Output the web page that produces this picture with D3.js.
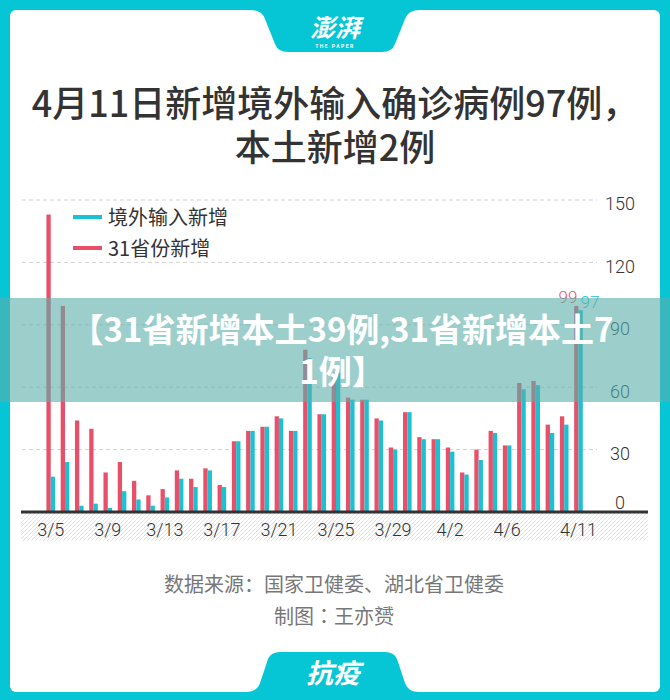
<!DOCTYPE html>
<html><head><meta charset="utf-8">
<script src="https://cdn.jsdelivr.net/npm/d3@7"></script>
<style>html,body{margin:0;padding:0;background:#fff}svg{display:block}</style>
</head><body>
<svg id="c" width="670" height="700"></svg>
<script>
const dates = ["3/5","3/6","3/7","3/8","3/9","3/10","3/11","3/12","3/13","3/14","3/15","3/16","3/17","3/18","3/19","3/20","3/21","3/22","3/23","3/24","3/25","3/26","3/27","3/28","3/29","3/30","3/31","4/1","4/2","4/3","4/4","4/5","4/6","4/7","4/8","4/9","4/10","4/11"];
const provinces31 = [143,99,44,40,19,24,15,8,11,20,16,21,13,34,39,41,46,39,78,47,67,55,54,45,31,48,36,35,31,19,30,39,32,62,63,42,46,99];
const imported = [17,24,3,4,2,10,6,3,7,16,12,20,12,34,39,41,45,39,74,47,67,54,54,44,30,48,35,35,29,18,25,38,32,59,61,38,42,97];
const xTickLabels = ["3/5","3/9","3/13","3/17","3/21","3/25","3/29","4/2","4/6","4/11"];
const yTicks = [0,30,60,90,120,150];
const seriesNames = ["境外输入新增","31省份新增"];
const titleLines = ["4月11日新增境外输入确诊病例97例，","本土新增2例"];
const bannerLines = ["【31省新增本土39例,31省新增本土7","1例】"];

const CYAN = "#1cc1d1", RED = "#e8506a", BORDER = "#06c6d6";
const CJK = "'Noto Sans CJK SC', sans-serif";
const NUM = "Roboto, 'Noto Sans', sans-serif";

const svg = d3.select("#c");
const defs = svg.append("defs");
const pat = defs.append("pattern").attr("id","hatch").attr("patternUnits","userSpaceOnUse")
  .attr("width",4).attr("height",4);
pat.append("path").attr("d","M-1,1 l2,-2 M0,4 l4,-4 M3,5 l2,-2").attr("stroke","#dadada").attr("stroke-width",0.8);

// background & card
svg.append("rect").attr("width",670).attr("height",700).attr("fill",BORDER);
svg.append("rect").attr("x",10).attr("y",10).attr("width",650).attr("height",682).attr("rx",6).attr("fill","#fff");

// top tab
svg.append("path").attr("fill",BORDER)
  .attr("d","M250,10 Q262,10 265,19 L275,44 Q278,52 288,52 L382,52 Q392,52 395,44 L405,19 Q408,10 420,10 Z");
svg.append("text").attr("x",335).attr("y",37).attr("text-anchor","middle")
  .attr("font-family",CJK).attr("font-weight",700).attr("font-style","italic").attr("font-size",25)
  .attr("fill","#fff").text("澎湃");
svg.append("text").attr("x",335).attr("y",48).attr("text-anchor","middle")
  .attr("font-family",NUM).attr("font-weight",700).attr("font-size",5).attr("letter-spacing",1.5)
  .attr("fill","#fff").text("THE PAPER");

// bottom tab
svg.append("path").attr("fill",BORDER)
  .attr("d","M246,692 Q257,692 260,683 L268,659 Q271,652 280,652 L385,652 Q394,652 397,659 L405,683 Q408,692 419,692 Z");
svg.append("text").attr("x",333).attr("y",683).attr("text-anchor","middle")
  .attr("font-family",CJK).attr("font-weight",700).attr("font-style","italic").attr("font-size",27)
  .attr("fill","#fff").text("抗疫");

// title
titleLines.forEach((t,i)=>{
  svg.append("text").attr("x",335).attr("y",[117,161][i]).attr("text-anchor","middle")
    .attr("font-family",CJK).attr("font-weight",500).attr("font-size",36).attr("fill","#333").text(t);
});

// scales
const x = d3.scaleBand().domain(dates).range([43.6,585.6]).padding(0);
const y = d3.scaleLinear().domain([0,150]).range([512,200]);
const cx = d => x(d) + x.bandwidth()/2;
const bw = 4.3;

// gridlines
svg.append("g").selectAll("line").data(yTicks.filter(v=>v>0)).join("line")
  .attr("x1",22).attr("x2",597).attr("y1",d=>y(d)).attr("y2",d=>y(d))
  .attr("stroke","#d2d2d2").attr("stroke-width",1).attr("stroke-dasharray","4,3");

// hatched band below baseline
svg.append("rect").attr("x",21).attr("y",513).attr("width",627).attr("height",28).attr("fill","url(#hatch)");

// bars
const gb = svg.append("g");
gb.selectAll("rect.red").data(dates).join("rect").attr("class","red")
  .attr("x",d=>cx(d)-bw).attr("width",bw)
  .attr("y",(d,i)=>y(provinces31[i])).attr("height",(d,i)=>y(0)-y(provinces31[i])).attr("fill",RED);
gb.selectAll("rect.cyan").data(dates).join("rect").attr("class","cyan")
  .attr("x",d=>cx(d)).attr("width",bw)
  .attr("y",(d,i)=>y(imported[i])).attr("height",(d,i)=>y(0)-y(imported[i])).attr("fill",CYAN);

// last value labels
const last = dates.length-1;
svg.append("text").attr("x",cx(dates[last])-1).attr("y",y(provinces31[last])-3).attr("text-anchor","end")
  .attr("font-family",NUM).attr("font-weight",300).attr("font-size",17).attr("fill",RED).text(provinces31[last]);
svg.append("text").attr("x",cx(dates[last])+2).attr("y",y(imported[last])-2.5).attr("text-anchor","start")
  .attr("font-family",NUM).attr("font-weight",300).attr("font-size",17).attr("fill",CYAN).text(imported[last]);

// baseline
svg.append("line").attr("x1",21).attr("x2",648).attr("y1",512).attr("y2",512).attr("stroke","#333").attr("stroke-width",3);

// x axis
const xAxis = svg.append("g").attr("transform","translate(0,523)")
  .call(d3.axisBottom(x).tickValues(xTickLabels).tickSize(0).tickPadding(0));
xAxis.select(".domain").remove();
xAxis.selectAll("text").attr("font-family",NUM).attr("font-weight",300).attr("font-size",18).attr("fill","#333").attr("dy","0.71em");

// y axis (right)
const yAxis = svg.append("g").attr("transform","translate(620,0)")
  .call(d3.axisRight(y).tickValues(yTicks).tickSize(0).tickPadding(0));
yAxis.select(".domain").remove();
yAxis.selectAll("text").attr("text-anchor","middle").attr("x",0)
  .attr("font-family",NUM).attr("font-weight",300).attr("font-size",18).attr("fill","#333")
  .attr("dy",d=> d===0 ? "-0.2em" : "0.55em");

// legend
const leg = svg.append("g");
[CYAN,RED].forEach((c,i)=>{
  const ly = [217,248][i];
  leg.append("rect").attr("x",73).attr("y",ly-2).attr("width",29).attr("height",4).attr("fill",c);
  leg.append("text").attr("x",108).attr("y",ly+7.5).attr("font-family",CJK).attr("font-size",20)
    .attr("fill","#333").text(seriesNames[i]);
});

// footer
svg.append("text").attr("x",334).attr("y",592).attr("text-anchor","middle")
  .attr("font-family",CJK).attr("font-size",20).attr("fill","#777").text("数据来源：国家卫健委、湖北省卫健委");
const f2 = svg.append("text").attr("x",334).attr("y",624).attr("text-anchor","middle")
  .attr("font-family",CJK).attr("font-size",20).attr("fill","#777");
f2.append("tspan").text("制图");
f2.append("tspan").attr("font-family","'Noto Sans CJK TC', sans-serif").text("：");
f2.append("tspan").text("王亦赟");

// overlay banner
svg.append("rect").attr("x",0).attr("y",298).attr("width",670).attr("height",104).attr("fill","rgba(90,175,170,0.6)");
bannerLines.forEach((t,i)=>{
  svg.append("text").attr("x",342).attr("y",[342,384][i]).attr("text-anchor","middle")
    .attr("font-family",CJK).attr("font-weight",700).attr("font-size",33).attr("fill","#fff").text(t);
});
</script>
</body></html>
